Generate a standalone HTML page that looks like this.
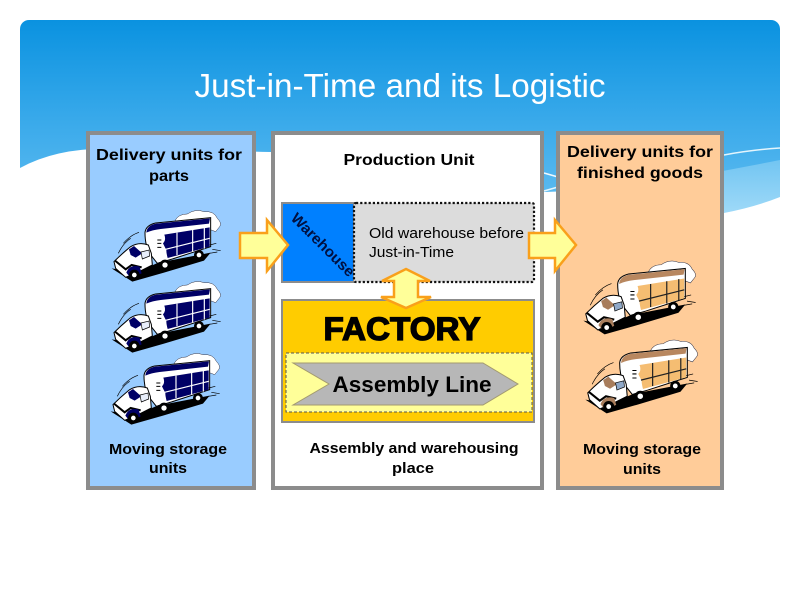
<!DOCTYPE html>
<html><head><meta charset="utf-8"><style>
html,body{margin:0;padding:0;background:#fff}
svg{display:block}
text{font-family:"Liberation Sans",sans-serif}
</style></head><body>
<svg width="800" height="600" viewBox="0 0 800 600" xmlns="http://www.w3.org/2000/svg">
<defs>
<linearGradient id="sky" x1="0" y1="20" x2="0" y2="215" gradientUnits="userSpaceOnUse">
<stop offset="0" stop-color="#0a92e0"/><stop offset="0.55" stop-color="#3cabeb"/><stop offset="1" stop-color="#62bdf0"/>
</linearGradient>
<linearGradient id="sky2" x1="0" y1="160" x2="0" y2="215" gradientUnits="userSpaceOnUse">
<stop offset="0" stop-color="#72c5f2"/><stop offset="1" stop-color="#a0daf8"/>
</linearGradient>
<g id="truck" transform="scale(.3333)">
<path d="M258,92 Q268,72 295,72 Q320,55 345,65 Q375,62 385,85 Q400,100 392,110 L380,125 L340,110 Z" fill="#fff" stroke="#334" stroke-width="1.5"/>
<path d="M68,235 L130,275 L225,248 L345,212 L365,188 L240,212 L130,245 Z" fill="#000"/>
<path d="M168,128 Q170,106 200,99 L365,83 L365,170 L250,207 L205,220 L185,195 Q168,170 168,128Z" fill="#fff" stroke="#000" stroke-width="3"/>
<path d="M172,128 Q174,106 202,101 L363,85 L360,101 L215,117 Q190,120 172,128Z" fill="var(--a)"/>
<path d="M226,134 L362,112 L362,170 L236,204 Q232,190 232,180 L222,160 Q232,150 226,134Z" fill="var(--b)"/>
<path d="M264,128 L264,195 M311,120 L311,185 M346,114 L346,176 M230,178 L362,145" stroke="var(--l)" stroke-width="3.5" fill="none"/>
<path d="M205,150 h12 M205,160 h12 M205,172 h12" stroke="#000" stroke-width="3"/>
<path d="M75,215 Q100,190 125,170 Q150,155 178,165 L187,190 L190,225 L150,245 L110,262 L80,235Z" fill="#fff" stroke="#000" stroke-width="3"/>
<path d="M120,178 L135,168 L160,190 L140,203 L125,195Z" fill="var(--c)"/>
<path d="M156,186 L180,180 L182,198 L160,207Z" fill="var(--w)" stroke="#000" stroke-width="2"/>
<path d="M78,212 L110,238 L128,225 L158,232" fill="none" stroke="#000" stroke-width="6"/>
<path d="M112,248 Q122,222 152,230 L158,250 L125,264Z" fill="var(--c)"/>
<path d="M158,240 L215,215 L215,232 L160,252Z" fill="#000"/>
<circle cx="136" cy="255" r="16" fill="#000"/><circle cx="136" cy="255" r="7" fill="#fff"/>
<circle cx="228" cy="225" r="16" fill="#000"/><circle cx="228" cy="225" r="8" fill="#fff"/>
<circle cx="330" cy="195" r="15" fill="#000"/><circle cx="330" cy="195" r="7" fill="#fff"/>
<path d="M88,190 Q102,160 125,145 M103,160 Q125,135 150,127 M362,165 L382,160 M370,178 L395,182 M362,190 L385,186" fill="none" stroke="#000" stroke-width="2"/>
</g>
</defs>

<rect x="20" y="20" width="760" height="240" rx="9" fill="url(#sky)"/>
<path d="M700,175 Q740,168 780,160 L780,215 L700,220Z" fill="url(#sky2)"/>
<path d="M724,155 Q750,150 780,148" fill="none" stroke="#e4f5fd" stroke-width="1.5"/>
<path d="M20,168 Q60,146 120,149 Q190,150 271,152 L300,160 L544,160 L544,192 L600,190 L724,213 Q755,207 780,197 L780,270 L20,270Z" fill="#fff"/>
<path d="M544,173 L558,177" stroke="#f0faff" stroke-width="1.5"/>
<path d="M544,191 L558,187" stroke="#e4f5fd" stroke-width="1.5"/>

<rect x="88" y="133" width="166" height="355" fill="#99ccff" stroke="#8c8c8c" stroke-width="4"/>
<rect x="273" y="133" width="269" height="355" fill="#fff" stroke="#8c8c8c" stroke-width="4"/>
<rect x="558" y="133" width="164" height="355" fill="#ffcc99" stroke="#8c8c8c" stroke-width="4"/>

<text x="400" y="97" font-size="33" fill="#fff" text-anchor="middle" textLength="411" lengthAdjust="spacingAndGlyphs">Just-in-Time and its Logistic</text>

<g font-weight="bold" fill="#000" text-anchor="middle" font-size="16" lengthAdjust="spacingAndGlyphs">
<text x="169" y="160" textLength="146" lengthAdjust="spacingAndGlyphs">Delivery units for</text>
<text x="169" y="181" textLength="40" lengthAdjust="spacingAndGlyphs">parts</text>
<text x="409" y="165" textLength="131" lengthAdjust="spacingAndGlyphs">Production Unit</text>
<text x="640" y="157" textLength="146" lengthAdjust="spacingAndGlyphs">Delivery units for</text>
<text x="640" y="178" textLength="126" lengthAdjust="spacingAndGlyphs">finished goods</text>
</g>
<g font-weight="bold" fill="#000" text-anchor="middle" font-size="15">
<text x="168" y="454" textLength="118" lengthAdjust="spacingAndGlyphs">Moving storage</text>
<text x="168" y="473" textLength="38" lengthAdjust="spacingAndGlyphs">units</text>
<text x="414" y="453" textLength="209" lengthAdjust="spacingAndGlyphs">Assembly and warehousing</text>
<text x="413" y="473" textLength="42" lengthAdjust="spacingAndGlyphs">place</text>
<text x="642" y="454" textLength="118" lengthAdjust="spacingAndGlyphs">Moving storage</text>
<text x="642" y="474" textLength="38" lengthAdjust="spacingAndGlyphs">units</text>
</g>

<g style="--a:#000066;--b:#000066;--c:#000066;--l:#fff;--w:#e8eefa">
<use href="#truck" transform="translate(89,190)"/>
<use href="#truck" transform="translate(89,261)"/>
<use href="#truck" transform="translate(88,333)"/>
</g>
<g style="--a:#b8875f;--b:#f5bd72;--c:#a87d5c;--l:#222;--w:#8fa8c8">
<use href="#truck" transform="translate(560,240) scale(1.03)"/>
<use href="#truck" transform="translate(562,319) scale(1.03)"/>
</g>

<rect x="282" y="203" width="72" height="79" fill="#0080ff" stroke="#8c8c8c" stroke-width="2"/>
<rect x="354" y="203" width="180" height="79" fill="#dcdcdc"/>
<rect x="354" y="203" width="180" height="79" rx="2" fill="none" stroke="#111" stroke-width="2.2" stroke-dasharray="2.2 2"/>
<text transform="translate(290,219) rotate(45)" font-size="15" font-weight="bold" fill="#001040" textLength="83" lengthAdjust="spacingAndGlyphs">Warehouse</text>
<g font-size="15" fill="#000">
<text x="369" y="238" textLength="155" lengthAdjust="spacingAndGlyphs">Old warehouse before</text>
<text x="369" y="257" textLength="85" lengthAdjust="spacingAndGlyphs">Just-in-Time</text>
</g>

<rect x="282" y="300" width="252" height="122" fill="#ffcc00" stroke="#8c8c8c" stroke-width="2"/>
<rect x="286" y="353" width="246" height="59" fill="#ffff99" stroke="#555" stroke-width="1" stroke-dasharray="3 2"/>
<path d="M293,363 L483,363 L518,384 L483,405 L293,405 L329,384Z" fill="#b7b7b7" stroke="#a39a70" stroke-width="1"/>
<text x="402" y="340" font-size="32" font-weight="bold" text-anchor="middle" textLength="157" lengthAdjust="spacingAndGlyphs" stroke="#000" stroke-width="1.3">FACTORY</text>
<text x="412" y="392" font-size="22" font-weight="bold" text-anchor="middle" textLength="159" lengthAdjust="spacingAndGlyphs">Assembly Line</text>

<path d="M240,233 L267,233 L267,220 L288,245 L267,271 L267,258 L240,258Z" fill="#ffff99" stroke="#f9a01b" stroke-width="2.5"/>
<path d="M529,233 L555,233 L555,220 L576,245 L555,271 L555,258 L529,258Z" fill="#ffff99" stroke="#f9a01b" stroke-width="2.5"/>
<path d="M406,269 L430,281 L418,281 L418,297 L431,297 L406,308 L381,297 L394,297 L394,281 L382,281Z" fill="#ffff99" stroke="#f9a01b" stroke-width="2.5"/>
</svg>
</body></html>
